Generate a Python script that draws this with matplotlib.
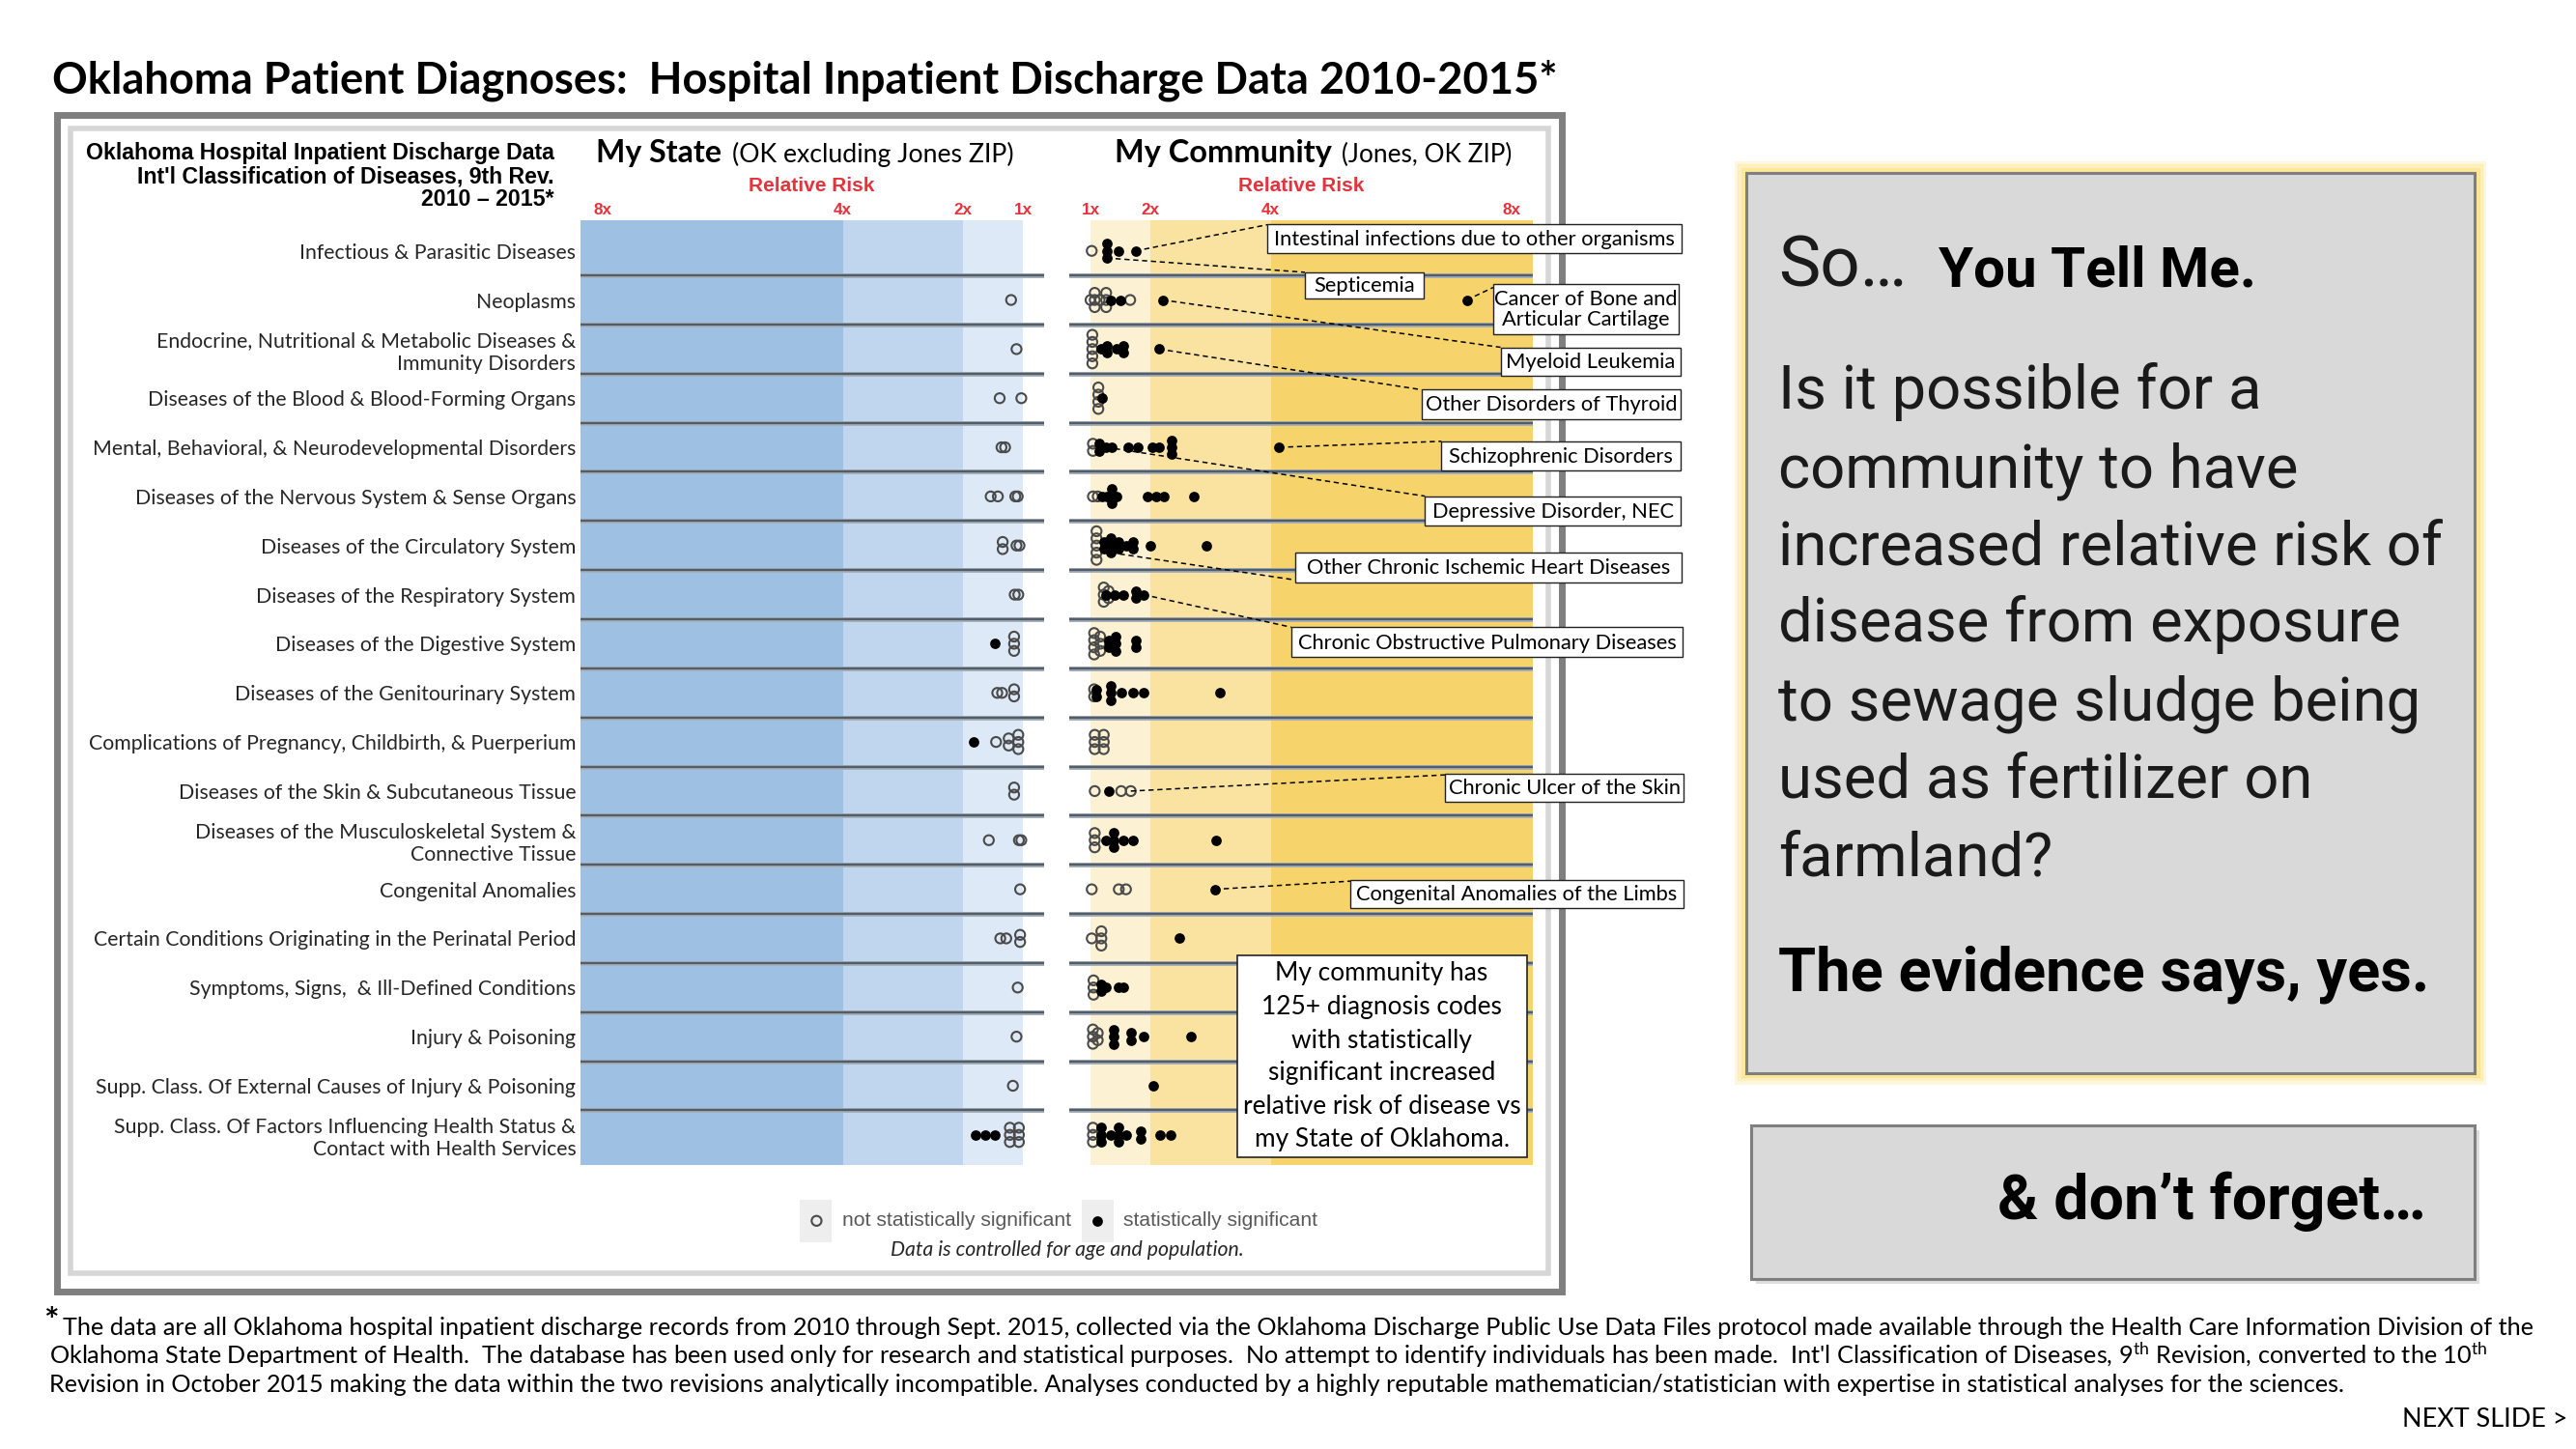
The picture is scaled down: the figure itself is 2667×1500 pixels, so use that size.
import matplotlib
matplotlib.use("Agg")
import matplotlib.pyplot as plt
from matplotlib.patches import Rectangle
from matplotlib import font_manager
import numpy as np

plt.rcParams['mathtext.fontset'] = 'custom'
plt.rcParams['mathtext.rm'] = 'Lato'
plt.rcParams['mathtext.it'] = 'Lato:italic'
plt.rcParams['mathtext.bf'] = 'Lato:bold'

installed = {f.name for f in font_manager.fontManager.ttflist}
NARROW = 'Liberation Sans Narrow' if 'Liberation Sans Narrow' in installed else 'Liberation Sans'

# ---------------- data ----------------
categories = [
    'Infectious & Parasitic Diseases',
    'Neoplasms',
    'Endocrine, Nutritional & Metabolic Diseases &\nImmunity Disorders',
    'Diseases of the Blood & Blood-Forming Organs',
    'Mental, Behavioral, & Neurodevelopmental Disorders',
    'Diseases of the Nervous System & Sense Organs',
    'Diseases of the Circulatory System',
    'Diseases of the Respiratory System',
    'Diseases of the Digestive System',
    'Diseases of the Genitourinary System',
    'Complications of Pregnancy, Childbirth, & Puerperium',
    'Diseases of the Skin & Subcutaneous Tissue',
    'Diseases of the Musculoskeletal System &\nConnective Tissue',
    'Congenital Anomalies',
    'Certain Conditions Originating in the Perinatal Period',
    'Symptoms, Signs,  & Ill-Defined Conditions',
    'Injury & Poisoning',
    'Supp. Class. Of External Causes of Injury & Poisoning',
    'Supp. Class. Of Factors Influencing Health Status &\nContact with Health Services',
]

# relative risk of each diagnosis code, one list per category
state_not_sig = [
    [], [1.20], [1.11], [1.39, 1.03], [1.30, 1.36],
    [1.54, 1.42, 1.09, 1.13], [1.34, 1.34, 1.06, 1.11], [1.08, 1.14],
    [1.15, 1.15, 1.15], [1.43, 1.35, 1.15, 1.15],
    [1.45, 1.24, 1.24, 1.08, 1.08, 1.08], [1.15, 1.15], [1.57, 1.07, 1.03],
    [1.05], [1.38, 1.28, 1.05, 1.05], [1.09], [1.11], [1.17],
    [1.22, 1.22, 1.22, 1.07, 1.07, 1.07],
]
state_sig = [
    [], [], [], [], [], [], [], [], [1.47], [], [1.82], [], [], [], [], [], [], [],
    [1.79, 1.63, 1.47],
]
comm_not_sig = [
    [1.02],
    [1.00, 1.07, 1.07, 1.07, 1.15, 1.26, 1.26, 1.26, 1.66],
    [1.03, 1.03, 1.03, 1.03, 1.03],
    [1.13, 1.13, 1.13, 1.13],
    [1.04, 1.04],
    [1.04, 1.12],
    [1.10, 1.10, 1.10, 1.10, 1.10],
    [1.22, 1.22, 1.22, 1.30, 1.30],
    [1.06, 1.06, 1.06, 1.06, 1.16, 1.16, 1.16],
    [1.06, 1.06],
    [1.07, 1.07, 1.07, 1.22, 1.22, 1.22],
    [1.07, 1.51, 1.67],
    [1.07, 1.07, 1.07],
    [1.02, 1.47, 1.59],
    [1.02, 1.18, 1.18, 1.18],
    [1.05, 1.05, 1.05],
    [1.04, 1.04, 1.04, 1.12, 1.12],
    [],
    [1.04, 1.04, 1.04],
]
comm_sig = [
    [1.27, 1.27, 1.27, 1.47, 1.75],
    [1.34, 1.50, 2.20, 7.26],
    [1.18, 1.28, 1.28, 1.44, 1.55, 1.55, 2.14],
    [1.19],
    [1.15, 1.15, 1.26, 1.36, 1.63, 1.79, 2.03, 2.14, 2.35, 2.35, 2.35, 4.14],
    [1.20, 1.28, 1.36, 1.36, 1.36, 1.44, 1.95, 2.09, 2.22, 2.72],
    [1.22, 1.22, 1.34, 1.34, 1.34, 1.47, 1.47, 1.59, 1.71, 1.71, 2.00, 2.93],
    [1.26, 1.40, 1.55, 1.75, 1.75, 1.88],
    [1.30, 1.30, 1.42, 1.42, 1.42, 1.75, 1.75],
    [1.10, 1.10, 1.34, 1.34, 1.34, 1.51, 1.71, 1.88, 3.15],
    [],
    [1.30],
    [1.26, 1.38, 1.38, 1.38, 1.55, 1.71, 3.09],
    [3.07],
    [2.48],
    [1.18, 1.18, 1.26, 1.47, 1.55],
    [1.39, 1.39, 1.39, 1.67, 1.67, 1.88, 2.67],
    [2.04],
    [1.18, 1.18, 1.18, 1.34, 1.47, 1.47, 1.47, 1.59, 1.84, 1.84, 2.16, 2.33],
]
risk_ticks = [1, 2, 4, 8]
risk_labels = ['1x', '2x', '4x', '8x']

callouts = [
    ('Intestinal infections due to other organisms', 0, 1.75),
    ('Septicemia', 0, 1.27),
    ('Cancer of Bone and\nArticular Cartilage', 1, 7.26),
    ('Myeloid Leukemia', 1, 2.20),
    ('Other Disorders of Thyroid', 2, 2.14),
    ('Schizophrenic Disorders', 4, 4.14),
    ('Depressive Disorder, NEC', 4, 1.26),
    ('Other Chronic Ischemic Heart Diseases', 6, 1.34),
    ('Chronic Obstructive Pulmonary Diseases', 7, 1.88),
    ('Chronic Ulcer of the Skin', 11, 1.67),
    ('Congenital Anomalies of the Limbs', 13, 3.07),
]
# box (x0, y0, x1, y1) and leader anchor, slide pixel units
callout_boxes = [
    ((767.5, 135.5, 1018.2, 153.4), (767.5, 136.0)),
    ((790.2, 164.8, 862.4, 180.8), (790.2, 164.8)),
    ((904.2, 171.6, 1016.7, 202.2), (904.2, 174.0)),
    ((908.7, 210.2, 1017.6, 227.7), (908.7, 210.2)),
    ((860.9, 235.9, 1017.6, 253.5), (860.9, 235.9)),
    ((872.9, 267.1, 1017.6, 285.0), (872.9, 267.1)),
    ((863.0, 300.3, 1017.6, 318.2), (863.0, 300.3)),
    ((784.2, 334.4, 1018.2, 352.5), (784.2, 351.0)),
    ((781.9, 379.6, 1019.1, 397.7), (781.9, 379.6)),
    ((875.0, 468.3, 1019.7, 485.0), (875.0, 469.0)),
    ((817.7, 532.9, 1019.7, 549.3), (817.7, 533.3)),
]

note_lines = ['My community has', '125+ diagnosis codes', 'with statistically',
              'significant increased', 'relative risk of disease vs', 'my State of Oklahoma.']
question_lines = ['Is it possible for a', 'community to have', 'increased relative risk of',
                  'disease from exposure', 'to sewage sludge being', 'used as fertilizer on',
                  'farmland?']
footnote_lines = [
    'The data are all Oklahoma hospital inpatient discharge records from 2010 through Sept. 2015, '
    'collected via the Oklahoma Discharge Public Use Data Files protocol made available through the '
    'Health Care Information Division of the',
    'Oklahoma State Department of Health.  The database has been used only for research and statistical '
    'purposes.  No attempt to identify individuals has been made.  Int\'l Classification of Diseases, '
    '9$^{\\mathrm{th}}$ Revision, converted to the 10$^{\\mathrm{th}}$',
    'Revision in October 2015 making the data within the two revisions analytically incompatible. '
    'Analyses conducted by a highly reputable mathematician/statistician with expertise in statistical '
    'analyses for the sciences.',
]

RED = '#e5323b'
BLUES = ['#dde9f7', '#bfd6ee', '#9dc0e3']
YELLOWS = ['#fdf1d4', '#fae3a1', '#f7d36c']

# ---------------- figure ----------------
W, H = 1560, 877
S = 2667 / W
fig = plt.figure(figsize=(26.67, 15), dpi=100)
renderer = fig.canvas.get_renderer()

bg = fig.add_axes([0, 0, 1, 1], zorder=0)
bg.set_xlim(0, W)
bg.set_ylim(H, 0)
bg.axis('off')


def size_for(text, width, **kw):
    t = bg.text(0, 0, text, fontsize=20, **kw)
    w = t.get_window_extent(renderer).width
    t.remove()
    return 20 * width * S / w


# title
tsz = size_for('Oklahoma Patient Diagnoses:  Hospital Inpatient Discharge Data 2010-2015*', 913,
               family='Lato', weight='bold')
bg.text(31.7, 56.5, 'Oklahoma Patient Diagnoses:  Hospital Inpatient Discharge Data 2010-2015*',
        fontsize=tsz, family='Lato', weight='bold', va='baseline')

# chart frames
bg.add_patch(Rectangle((34.5, 69.4), 911.2, 712.1, fill=False, ec='#7f7f7f', lw=5))
bg.add_patch(Rectangle((42.7, 78.0), 895.0, 692.4, fill=False, ec='#d6d6d6', lw=4))

# header block
hsz = size_for('Oklahoma Hospital Inpatient Discharge Data', 284.4, family=NARROW, weight='bold')
for txt, y in zip(['Oklahoma Hospital Inpatient Discharge Data',
                   "Int'l Classification of Diseases, 9th Rev.", '2010 \u2013 2015*'],
                  [92.6, 106.9, 120.9]):
    bg.text(335.7, y, txt, ha='right', va='center', fontsize=hsz, family=NARROW, weight='bold')

for bold, rest, x0, xr, wb, wr in [('My State', '(OK excluding Jones ZIP)', 361, 443.2, 76, 170.3),
                                  ('My Community', '(Jones, OK ZIP)', 675, 812.3, 131.3, 103.2)]:
    bg.text(x0, 98.3, bold, fontsize=size_for(bold, wb, family='Lato', weight='bold'),
            family='Lato', weight='bold', va='baseline')
    bg.text(xr, 98.3, rest, fontsize=size_for(rest, wr, family='Lato'), family='Lato', va='baseline')

rsz = size_for('Relative Risk', 76, family=NARROW, weight='bold')
for cx in [491.4, 788.0]:
    bg.text(cx, 112.7, 'Relative Risk', ha='center', va='center', fontsize=rsz,
            family=NARROW, weight='bold', color=RED)

# ---------------- the two strip panels ----------------
TOP, BOT = 133.5, 705.0
STEP = 7.4 / (29.72 * S)  # vertical spacing of stacked dots, in row units


def make_panel(x0, x1, lim, colors):
    ax = fig.add_axes([x0 / W, 1 - BOT / H, (x1 - x0) / W, (BOT - TOP) / H], zorder=1)
    ax.patch.set_alpha(0)
    ax.set_xlim(*lim)
    ax.set_ylim(18.61, -0.617)
    for (a, b), c in zip([(1, 2), (2, 4), (4, 9)], colors):
        ax.axvspan(a, b, color=c, lw=0, zorder=0)
    for y in np.arange(0.5, 18):
        ax.axhline(y, color='#a7b1bb', lw=3.6, zorder=1)
        ax.axhline(y, color='#525d68', lw=1.7, zorder=1.1)
    for sp in ax.spines.values():
        sp.set_visible(False)
    ax.xaxis.tick_top()
    ax.set_xticks(risk_ticks, labels=risk_labels, fontfamily=NARROW, fontweight='bold')
    ax.tick_params(axis='x', length=0, pad=2.5, labelsize=12.3, labelcolor=RED)
    return ax


def place_dots(ax, rows, **style):
    pts = []
    for row, vals in enumerate(rows):
        for v in sorted(set(vals)):
            n = vals.count(v)
            for k in range(n):
                pts.append((row, v, row + (k - (n - 1) / 2) * STEP))
    if pts:
        ax.scatter([p[1] for p in pts], [p[2] for p in pts], clip_on=False, **style)
    return pts


open_style = dict(s=54, facecolors='none', edgecolors='#4a4a4a', linewidths=1.5, zorder=3)
fill_style = dict(s=60, c='black', linewidths=0, zorder=4)

ax_s = make_panel(351.7, 632.4, (8.36, 0.648), BLUES)
ax_c = make_panel(647.6, 928.3, (0.648, 8.36), YELLOWS)

ysz = size_for('Complications of Pregnancy, Childbirth, & Puerperium', 295.5, family='Lato')
ax_s.set_yticks(range(len(categories)), labels=categories, fontfamily='Lato')
ax_s.tick_params(axis='y', length=0, pad=3.6, labelsize=ysz, labelcolor='#262626')
ax_c.set_yticks([])

place_dots(ax_s, state_not_sig, **open_style)
place_dots(ax_s, state_sig, **fill_style)
comm_pts = place_dots(ax_c, comm_not_sig, **open_style)
comm_pts += place_dots(ax_c, comm_sig, **fill_style)

# ---------------- callouts ----------------
fg = fig.add_axes([0, 0, 1, 1], zorder=3)
fg.patch.set_alpha(0)
fg.set_xlim(0, W)
fg.set_ylim(H, 0)
fg.axis('off')

csz = size_for('Intestinal infections due to other organisms', 244.7, family='Lato')
for (label, row, rr), ((x0, y0, x1, y1), (ax_, ay_)) in zip(callouts, callout_boxes):
    cands = [p for p in comm_pts if p[0] == row and abs(p[1] - rr) < 1e-6]
    pix = [fg.transData.inverted().transform(ax_c.transData.transform((p[1], p[2]))) for p in cands]
    sx, sy = min(pix, key=lambda q: abs(q[1] - ay_))
    fg.plot([sx, ax_], [sy, ay_], color='black', lw=1.1, ls=(0, (3.5, 2.5)), zorder=4)
    fg.add_patch(Rectangle((x0, y0), x1 - x0, y1 - y0, fc='white', ec='#222222', lw=1.0, zorder=5))
    fg.text((x0 + x1) / 2, (y0 + y1) / 2 + 0.5, label, ha='center', va='center', fontsize=csz,
            family='Lato', zorder=6, linespacing=1.05)

fg.add_patch(Rectangle((749, 578.1), 175.5, 122.4, fc='white', ec='#222222', lw=1.2, zorder=5))
nsz = size_for('relative risk of disease vs', 168.6, family='Lato')
for txt, y in zip(note_lines, [588.8, 609.7, 629.8, 649.3, 669.7, 689.8]):
    fg.text(836.8, y, txt, ha='center', va='center', fontsize=nsz, family='Lato', zorder=6)

# legend
bg.add_patch(Rectangle((484.2, 726.3), 19.7, 25.4, fc='#eeeeee', ec='none'))
bg.add_patch(Rectangle((655.0, 726.3), 19.4, 25.4, fc='#eeeeee', ec='none'))
bg.scatter([494.5], [738.9], **open_style)
bg.scatter([664.7], [738.9], **fill_style)
bg.text(510, 738.9, 'not statistically significant', va='center', color='#595959', family=NARROW,
        fontsize=size_for('not statistically significant', 138.5, family=NARROW))
bg.text(680.4, 738.9, 'statistically significant', va='center', color='#595959', family=NARROW,
        fontsize=size_for('statistically significant', 117.3, family=NARROW))
bg.text(646.2, 756.5, 'Data is controlled for age and population.', ha='center', va='center',
        color='#262626', family='Lato', style='italic',
        fontsize=size_for('Data is controlled for age and population.', 213.3, family='Lato',
                          style='italic'))

# ---------------- right hand panel ----------------
for pad, a in [(6, 0.25), (4, 0.45), (2, 0.75)]:
    bg.add_patch(Rectangle((1057.7 - pad, 104.7 - pad), 441 + 2 * pad, 544.6 + 2 * pad,
                           fc='none', ec='#ffe07a', lw=3, alpha=a))
bg.add_patch(Rectangle((1057.7, 104.7), 441.0, 544.6, fc='#d9d9d9', ec='#7f7f7f', lw=2.2))
bg.add_patch(Rectangle((1063.4, 684.0), 438.3, 93.0, fc='#c8c8c8', ec='none', alpha=0.6))
bg.add_patch(Rectangle((1060.4, 681.0), 438.3, 93.0, fc='#d9d9d9', ec='#7f7f7f', lw=2.2))

bg.text(1077, 173.2, 'So\u2026', family='Roboto', va='baseline', color='#1a1a1a',
        fontsize=size_for('So\u2026', 78, family='Roboto'))
bg.text(1173.8, 173.2, 'You Tell Me.', family='Roboto', weight='bold', va='baseline', color='black',
        fontsize=size_for('You Tell Me.', 192, family='Roboto', weight='bold'))
qsz = size_for('increased relative risk of', 401, family='Roboto')
for txt, y in zip(question_lines, [247.4, 294.7, 342.0, 388.3, 435.6, 482.8, 530.0]):
    bg.text(1077, y, txt, family='Roboto', va='baseline', fontsize=qsz, color='#1a1a1a')
bg.text(1077, 599.8, 'The evidence says, yes.', family='Roboto', weight='bold', va='baseline',
        fontsize=size_for('The evidence says, yes.', 394, family='Roboto', weight='bold'))
bg.text(1469, 737.9, '& don\u2019t forget\u2026', family='Roboto', weight='bold', va='baseline',
        ha='right', fontsize=size_for('& don\u2019t forget\u2026', 259, family='Roboto', weight='bold'))

# ---------------- footnote ----------------
fsz = size_for(footnote_lines[0], 1500, family='Lato')
bg.text(26.5, 806.5, '*', family='Lato', weight='bold', fontsize=fsz * 1.45, va='baseline')
for txt, x, y in zip(footnote_lines, [38, 30, 30], [808.2, 825.4, 842.3]):
    bg.text(x, y, txt, family='Lato', fontsize=fsz, va='baseline')
bg.text(1555, 863.4, 'NEXT SLIDE >', family='Lato', ha='right', va='baseline',
        fontsize=size_for('NEXT SLIDE >', 100, family='Lato'))

fig.savefig('out.png', dpi=100)
